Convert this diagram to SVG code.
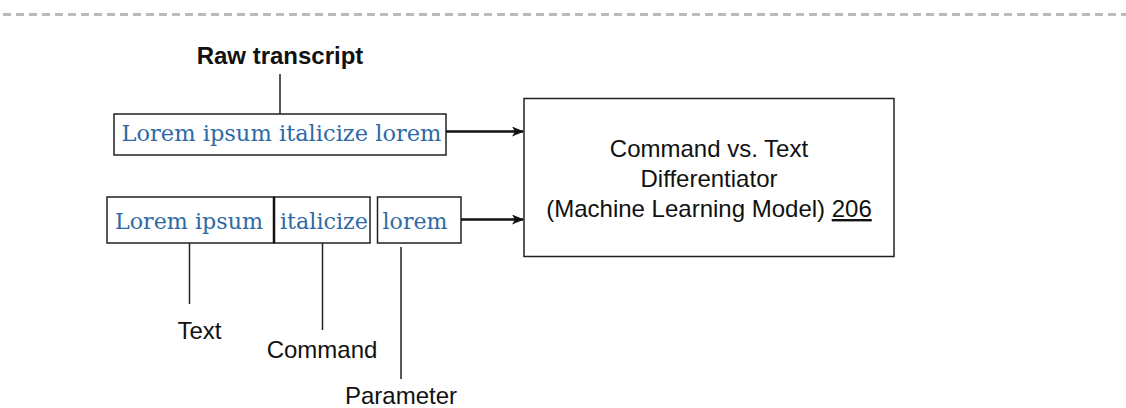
<svg xmlns="http://www.w3.org/2000/svg" width="1126" height="408" viewBox="0 0 1126 408">
<style>
.box{fill:#fff;stroke:#222;stroke-width:1.5}
.ser{font-family:"DejaVu Serif","Liberation Serif",serif;font-size:21.5px;fill:#2e6aa5;text-anchor:middle}
.sans{font-family:"Liberation Sans",Arial,sans-serif;font-size:24px;fill:#111;text-anchor:middle}
.ln{stroke:#222;stroke-width:1.5;fill:none}
.arr{stroke:#111;stroke-width:2.5;fill:none;marker-end:url(#ah)}
</style>
<defs>
<marker id="ah" markerWidth="12" markerHeight="10" refX="11" refY="5" orient="auto" markerUnits="userSpaceOnUse">
<path d="M0,0 L12,5 L0,10 L3,5 Z" fill="#111"/>
</marker>
</defs>
<rect width="1126" height="408" fill="#fff"/>
<line x1="3" y1="14.5" x2="1126" y2="14.5" stroke="#bbbbbb" stroke-width="3" stroke-dasharray="8 5"/>
<g id="raw-label">
<text class="sans" x="280" y="64" font-weight="bold" font-size="24.5px">Raw transcript</text>
</g>
<g id="raw-box">
<rect class="box" x="114" y="114" width="332" height="41"/>
<text class="ser" x="281.5" y="141" textLength="320" lengthAdjust="spacingAndGlyphs">Lorem ipsum italicize lorem</text>
</g>
<g id="seg-text">
<rect class="box" x="107" y="197" width="167" height="46"/>
<text class="ser" x="189" y="229" textLength="148" lengthAdjust="spacingAndGlyphs">Lorem ipsum</text>
</g>
<g id="seg-command">
<rect class="box" x="274" y="197" width="96" height="46"/>
<line x1="274" y1="197" x2="274" y2="243" stroke="#111" stroke-width="2.5"/>
<text class="ser" x="324" y="229" textLength="88" lengthAdjust="spacingAndGlyphs">italicize</text>
</g>
<g id="seg-parameter">
<rect class="box" x="377.5" y="197" width="83.5" height="46"/>
<text class="ser" x="415" y="229" textLength="65" lengthAdjust="spacingAndGlyphs">lorem</text>
</g>
<g id="differentiator">
<rect class="box" x="524" y="98.5" width="370" height="158"/>
<text class="sans" x="709" y="157">Command vs. Text</text>
<text class="sans" x="709" y="187">Differentiator</text>
<text class="sans" x="709" y="217">(Machine Learning Model) <tspan text-decoration="underline">206</tspan></text>
</g>
<g id="label-text"><text class="sans" x="199.5" y="339">Text</text></g>
<g id="label-command"><text class="sans" x="322" y="358">Command</text></g>
<g id="label-parameter"><text class="sans" x="401" y="404">Parameter</text></g>
<g id="connectors">
<line class="ln" x1="280" y1="74" x2="280" y2="114"/>
<line class="arr" x1="446" y1="131.5" x2="523" y2="131.5"/>
<line class="arr" x1="461" y1="219.5" x2="523" y2="219.5"/>
<line class="ln" x1="189.5" y1="243" x2="189.5" y2="304"/>
<line class="ln" x1="322.5" y1="243" x2="322.5" y2="330"/>
<line class="ln" x1="401" y1="247" x2="401" y2="379"/>
</g>
</svg>
